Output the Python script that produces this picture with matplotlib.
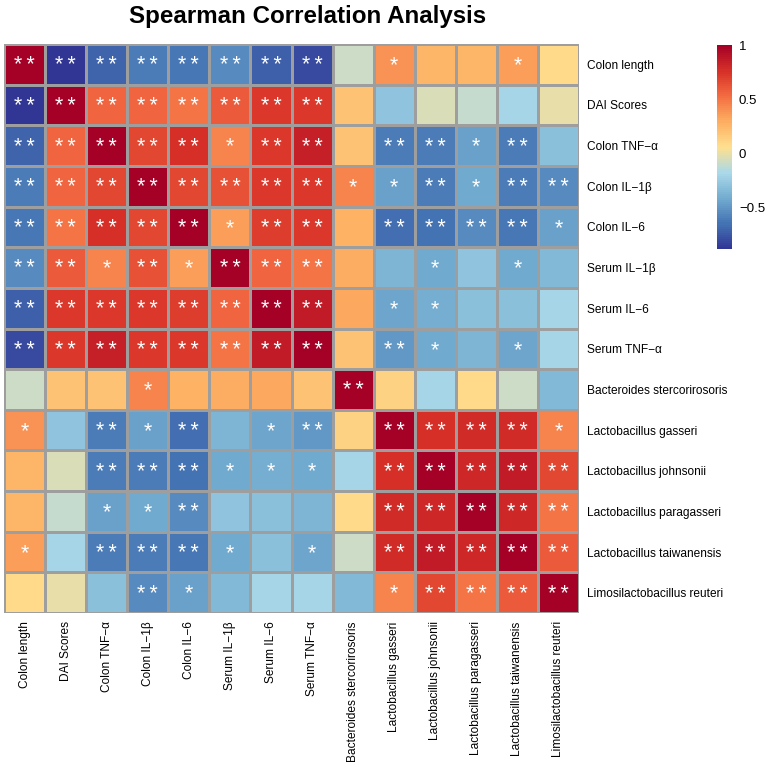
import numpy as np
import matplotlib
matplotlib.use("Agg")
import matplotlib.pyplot as plt
from matplotlib.colors import LinearSegmentedColormap

plt.rcParams['font.family'] = ['Liberation Sans', 'DejaVu Sans']

labels = ["Colon length", "DAI Scores", "Colon TNF\u2212\u03b1", "Colon IL\u22121\u03b2",
          "Colon IL\u22126", "Serum IL\u22121\u03b2", "Serum IL\u22126", "Serum TNF\u2212\u03b1",
          "Bacteroides stercorirosoris", "Lactobacillus gasseri", "Lactobacillus johnsonii",
          "Lactobacillus paragasseri", "Lactobacillus taiwanensis", "Limosilactobacillus reuteri"]

# spearman rho
rho = [
    [1.00, -0.88, -0.70, -0.60, -0.62, -0.55, -0.72, -0.80, -0.08, 0.38, 0.25, 0.26, 0.36, 0.08],
    [-0.88, 1.00, 0.55, 0.55, 0.50, 0.60, 0.72, 0.72, 0.20, -0.28, -0.05, -0.10, -0.20, 0.00],
    [-0.70, 0.55, 1.00, 0.68, 0.76, 0.44, 0.73, 0.84, 0.20, -0.60, -0.60, -0.45, -0.60, -0.30],
    [-0.60, 0.55, 0.68, 1.00, 0.68, 0.63, 0.72, 0.72, 0.44, -0.45, -0.60, -0.42, -0.60, -0.55],
    [-0.62, 0.50, 0.76, 0.68, 1.00, 0.36, 0.71, 0.72, 0.27, -0.66, -0.65, -0.55, -0.62, -0.45],
    [-0.55, 0.60, 0.44, 0.63, 0.36, 1.00, 0.56, 0.50, 0.29, -0.37, -0.42, -0.29, -0.42, -0.35],
    [-0.72, 0.72, 0.73, 0.72, 0.71, 0.56, 1.00, 0.85, 0.32, -0.43, -0.41, -0.30, -0.31, -0.20],
    [-0.80, 0.72, 0.84, 0.72, 0.72, 0.50, 0.85, 1.00, 0.20, -0.50, -0.42, -0.37, -0.43, -0.20],
    [-0.08, 0.20, 0.20, 0.44, 0.27, 0.29, 0.32, 0.20, 1.00, 0.13, -0.20, 0.08, -0.08, -0.35],
    [0.38, -0.28, -0.60, -0.45, -0.66, -0.37, -0.43, -0.50, 0.13, 1.00, 0.76, 0.78, 0.78, 0.45],
    [0.25, -0.05, -0.60, -0.60, -0.65, -0.42, -0.41, -0.42, -0.20, 0.76, 1.00, 0.80, 0.86, 0.68],
    [0.26, -0.10, -0.45, -0.42, -0.55, -0.29, -0.30, -0.37, 0.08, 0.78, 0.80, 1.00, 0.80, 0.50],
    [0.36, -0.20, -0.60, -0.60, -0.62, -0.42, -0.31, -0.43, -0.08, 0.78, 0.86, 0.80, 1.00, 0.60],
    [0.08, 0.00, -0.30, -0.55, -0.45, -0.35, -0.20, -0.20, -0.35, 0.45, 0.68, 0.50, 0.60, 1.00],
]

# significance: 2 = **, 1 = *, 0 = none
sig = [
    [2, 2, 2, 2, 2, 2, 2, 2, 0, 1, 0, 0, 1, 0],
    [2, 2, 2, 2, 2, 2, 2, 2, 0, 0, 0, 0, 0, 0],
    [2, 2, 2, 2, 2, 1, 2, 2, 0, 2, 2, 1, 2, 0],
    [2, 2, 2, 2, 2, 2, 2, 2, 1, 1, 2, 1, 2, 2],
    [2, 2, 2, 2, 2, 1, 2, 2, 0, 2, 2, 2, 2, 1],
    [2, 2, 1, 2, 1, 2, 2, 2, 0, 0, 1, 0, 1, 0],
    [2, 2, 2, 2, 2, 2, 2, 2, 0, 1, 1, 0, 0, 0],
    [2, 2, 2, 2, 2, 2, 2, 2, 0, 2, 1, 0, 1, 0],
    [0, 0, 0, 1, 0, 0, 0, 0, 2, 0, 0, 0, 0, 0],
    [1, 0, 2, 1, 2, 0, 1, 2, 0, 2, 2, 2, 2, 1],
    [0, 0, 2, 2, 2, 1, 1, 1, 0, 2, 2, 2, 2, 2],
    [0, 0, 1, 1, 2, 0, 0, 0, 0, 2, 2, 2, 2, 2],
    [1, 0, 2, 2, 2, 1, 0, 1, 0, 2, 2, 2, 2, 2],
    [0, 0, 0, 2, 1, 0, 0, 0, 0, 1, 2, 2, 2, 2],
]

cbar_ticks = [-0.5, 0, 0.5, 1]

cmap = LinearSegmentedColormap.from_list("rb", [
    "#313695", "#4575B4", "#74ADD1", "#ABD9E9", "#FEE090",
    "#FDAE61", "#F46D43", "#D73027", "#A50026"], N=100)

data = np.array(rho)
n = len(labels)
W, H = 767, 768
fig = plt.figure(figsize=(W / 100, H / 100), dpi=100)

x0, x1, y0, y1 = 4, 579, 44, 613
ax = fig.add_axes([x0 / W, 1 - y1 / H, (x1 - x0) / W, (y1 - y0) / H])
mesh = ax.pcolormesh(data, cmap=cmap, vmin=data.min(), vmax=data.max(),
                     edgecolors="#9E9E9E", linewidth=1.0)
ax.set_xlim(0, n)
ax.set_ylim(n, 0)
for s in ax.spines.values():
    s.set_visible(False)

for i in range(n):
    for j in range(n):
        if sig[i][j]:
            ax.text(j + 0.5, i + 0.67, "\u2009".join(["*"] * sig[i][j]), color="white",
                    ha="center", va="baseline", fontsize=15.5)

ax.set_xticks(np.arange(n) + 0.5)
ax.set_yticks(np.arange(n) + 0.5)
ax.set_xticklabels(labels, rotation=90, fontsize=8.6)
ax.set_yticklabels(labels, fontsize=8.6)
ax.yaxis.tick_right()
ax.tick_params(length=0, pad=6)

cax = fig.add_axes([717 / W, 1 - 249 / H, 15 / W, 204 / H])
cb = fig.colorbar(mesh, cax=cax, ticks=cbar_ticks)
cb.outline.set_visible(False)
cb.ax.set_yticklabels(["\u22120.5", "0", "0.5", "1"])
cb.ax.tick_params(length=0, labelsize=9.5, pad=5)

fig.text(308 / W, 1 - 16 / H, "Spearman Correlation Analysis",
         ha="center", va="center", fontsize=17.4, fontweight="bold")

fig.savefig("out.png", dpi=100)
